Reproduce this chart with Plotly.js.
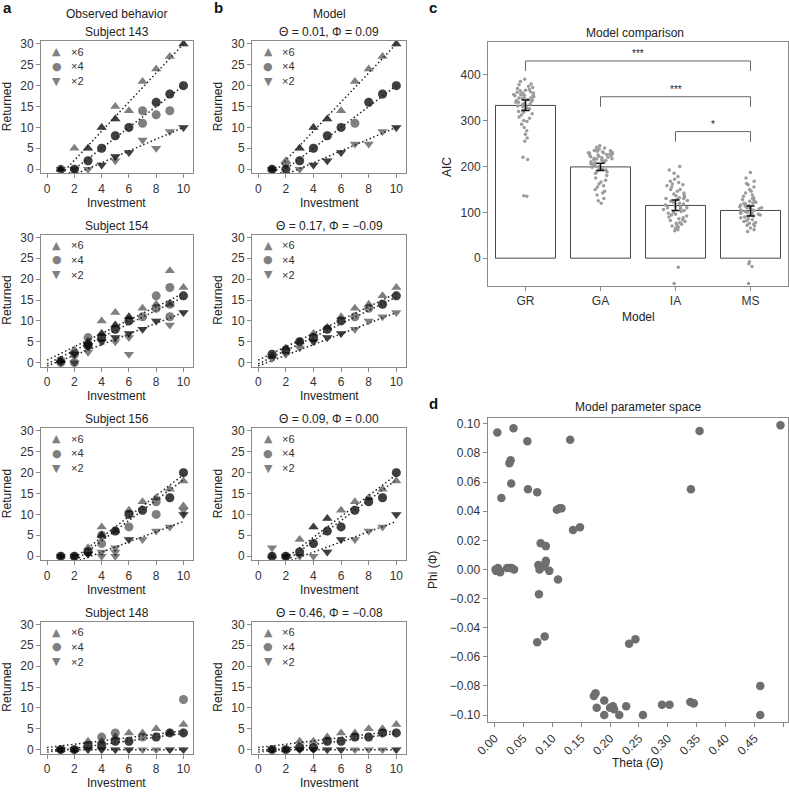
<!DOCTYPE html>
<html>
<head>
<meta charset="utf-8">
<script src="https://cdn.plot.ly/plotly-3.0.1.min.js"></script>
<style>
  html, body { margin: 0; padding: 0; background: #fff; }
  #chart { width: 789px; height: 793px; }
</style>
</head>
<body>
<div id="chart"></div>
<script>
// ---------------- DATA ----------------
const investTicks = [0, 2, 4, 6, 8, 10];
const returnTicks = [0, 5, 10, 15, 20, 25, 30];
const multiplierLabels = ['×6', '×4', '×2'];
const subjects = ['Subject 143', 'Subject 154', 'Subject 156', 'Subject 148'];
const modelParams = ['Θ = 0.01, Φ = 0.09', 'Θ = 0.17, Φ = −0.09', 'Θ = 0.09, Φ = 0.00', 'Θ = 0.46, Φ = −0.08'];

// Observed behaviour, [investment, returned] (repeated entries = repeated trials)
const obs143_x6 = [[1,0],[1,0],[2,5],[3,5],[3,5],[4,10],[4,10],[5,15],[5,12],[5,12],[6,14],[7,21],[8,24],[9,27],[10,30],[10,30]];
const obs143_x4 = [[1,0],[2,0],[2,0],[3,2],[3,2],[4,5],[4,5],[5,8],[5,8],[6,10],[6,10],[7,14],[7,11],[8,16],[8,16],[8,13],[9,18],[9,18],[9,14],[10,20],[10,20]];
const obs143_x2 = [[1,0],[2,0],[3,0],[4,1],[4,1],[5,3],[5,3],[5,2],[6,4],[6,4],[7,7],[8,5],[9,9],[10,10],[10,10]];

const obs154_x6 = [[1,0.5],[1,0.5],[2,3],[3,5],[3,5],[4,10],[4,7],[4,7],[5,12],[5,9],[5,9],[6,11],[6,11],[7,13],[8,14],[9,22],[9,14],[10,18]];
const obs154_x4 = [[1,0.5],[1,0],[2,0],[2,2],[3,6],[3,4],[3,4],[4,6],[4,6],[5,8],[5,8],[6,10],[6,10],[7,11],[8,16],[8,13],[9,18],[9,14],[9,11],[10,16],[10,16]];
const obs154_x2 = [[1,0],[2,0],[2,2],[2,2],[3,2.5],[3,4],[3,4],[4,5],[4,5],[5,5],[5,6],[5,6],[6,7],[6,7],[6,6],[6,2],[7,8],[7,8],[8,10],[8,10],[9,9],[10,12],[10,12]];

const obs156_x6 = [[1,0],[2,0],[3,2],[4,7],[4,5],[4,5],[5,6],[6,11],[7,13],[8,14],[9,16],[10,18],[10,12]];
const obs156_x4 = [[1,0],[1,0],[2,0],[2,0],[3,1],[3,1],[4,5],[4,3],[5,6],[5,6],[6,10],[6,10],[6,7],[7,11],[7,11],[8,13],[8,10],[9,14],[9,14],[10,20],[10,20]];
const obs156_x2 = [[1,0],[2,0],[3,0.5],[3,0.5],[4,0],[4,1],[5,2],[5,0],[5,1],[6,4],[6,4],[7,4],[8,6],[9,7],[10,10],[10,10],[10,11]];

const obs148_x6 = [[1,0],[2,0],[3,2],[4,2],[5,3],[6,4],[7,4],[8,5],[9,4],[10,6]];
const obs148_x4 = [[1,0],[1,0],[2,0],[2,0],[3,1],[3,1],[4,3],[4,1],[4,1],[5,4],[5,2],[5,2],[6,2],[6,2],[7,3],[8,3],[8,3],[9,4],[9,4],[10,12],[10,4],[10,4]];
const obs148_x2 = [[1,0],[1,0],[2,0],[2,0],[3,0],[3,0],[4,0],[4,0],[5,0],[5,0],[6,0],[6,0],[7,0],[8,0],[9,0],[9,0],[10,0],[10,0]];

// Model simulations
const mod143_x6 = [[1,0],[2,2],[3,5],[3,5],[4,10],[4,10],[5,12],[5,12],[6,14],[7,21],[8,24],[9,27],[10,30],[10,30]];
const mod143_x4 = [[1,0],[1,0],[2,0],[2,0],[3,2],[3,2],[4,5],[4,5],[5,8],[5,8],[6,10],[6,10],[7,11],[8,16],[8,16],[9,18],[9,18],[10,20],[10,20]];
const mod143_x2 = [[1,0],[2,1],[3,0],[4,1],[4,1],[5,2],[5,2],[6,4],[6,4],[7,6],[8,6],[9,9],[10,10],[10,10]];

const mod154_x6 = [[1,1.5],[2,3.5],[3,5],[4,7],[5,8.5],[6,11],[7,13],[8,14],[9,16],[10,18]];
const mod154_x4 = [[1,2],[1,2],[2,3],[2,3],[3,5],[3,5],[4,6],[4,6],[5,8],[5,8],[6,10],[6,10],[7,11],[8,13],[9,14],[9,14],[10,16],[10,16]];
const mod154_x2 = [[1,1],[2,2],[3,3.5],[4,5],[4,5],[5,6],[5,6],[6,7],[6,7],[7,8],[8,10],[9,11],[10,12]];

const mod156_x6 = [[1,0],[2,0],[3,4],[4,7],[4,7],[5,9],[5,9],[6,11],[7,13],[8,14],[9,16],[10,18]];
const mod156_x4 = [[1,0],[1,0],[2,0],[2,0],[3,1],[3,1],[4,3],[4,3],[5,6],[5,6],[6,7],[6,7],[7,11],[7,11],[8,13],[8,13],[9,14],[9,14],[10,20],[10,20]];
const mod156_x2 = [[1,2],[2,0],[3,0],[4,0],[5,1],[5,1],[6,4],[6,4],[7,4],[8,6],[9,7],[10,10],[10,10]];

const mod148_x6 = [[1,0],[2,0],[3,2],[4,2],[5,3],[6,4],[7,4],[8,5],[9,5],[10,6]];
const mod148_x4 = [[1,0],[1,0],[2,0],[2,0],[3,0.5],[3,0.5],[4,0.5],[4,0.5],[5,2],[5,2],[6,2],[6,2],[7,3],[7,3],[8,3],[8,3],[9,4],[9,4],[10,4],[10,4]];
const mod148_x2 = [[1,0],[2,0],[3,0],[3,0],[4,0],[4,0],[5,0],[5,0],[6,0],[6,0],[7,0],[8,0],[9,0],[10,0],[10,0]];

// Fitted (model) lines, endpoints [investment, returned]
const fit143 = [[[1.1,-1],[10,30]], [[1.6,-1],[10,20]], [[2.2,-1],[10,10]]];
const fit154 = [[[0,0.6],[10,16.6]], [[0,-0.3],[10,15.7]], [[0,-0.8],[10,12]]];
const fit156 = [[[1.8,-1],[10,19.5]], [[2.1,-1],[10,18.3]], [[2.4,-1],[10,8.3]]];
const fit148 = [[[0,0.5],[10,4.5]], [[0,-0.6],[10,3.9]], [[0,0],[10,0]]];

// Model comparison (AIC)
const models = ['GR', 'GA', 'IA', 'MS'];
const aicMean = [333, 199, 115, 104];
const aicErrPlus = [12, 8, 12, 10];
const aicErrMinus = [11, 8, 11, 12];
const aicGR = [390,385,380,378,375,372,370,368,366,365,363,362,360,360,358,357,356,355,355,354,352,350,350,349,348,346,345,344,342,340,340,338,336,335,333,332,330,328,326,324,322,320,318,315,312,308,305,300,298,292,285,278,270,262,255,220,215,136,135];
const aicGA = [245,242,240,238,236,235,234,233,232,231,230,230,229,228,227,226,225,224,223,222,221,220,219,218,217,216,215,214,213,212,210,209,208,206,205,204,202,200,198,196,194,192,190,188,185,180,175,170,166,162,158,155,150,146,142,138,130,125,120];
const aicIA = [200,192,185,178,172,168,165,162,160,158,155,150,150,146,142,140,138,136,134,132,130,130,128,126,124,122,120,118,116,114,112,110,110,108,106,104,102,100,98,96,94,92,90,88,86,84,82,80,78,76,74,72,70,68,65,62,60,-20,-55];
const aicMS = [187,175,168,163,160,155,150,146,142,138,135,132,130,128,126,124,122,120,120,118,116,115,114,112,110,110,109,108,106,105,104,102,100,100,99,98,96,95,94,92,92,90,88,86,84,82,80,78,76,74,72,70,66,62,58,-8,-12,-18,-55];
const sigPairs = [['GR','MS'], ['GA','MS'], ['IA','MS']];
const sigLevels = [430, 352, 276];
const sigLabels = ['***', '***', '*'];

// Model parameter space
const theta = [0.005,0.033,0.057,0.131,0.355,0.495,0.026,0.028,0.029,0.012,0.058,0.074,0.340,0.108,0.113,0.116,0.136,0.148,0.080,0.089,0.002,0.006,0.009,0.003,0.010,0.022,0.027,0.030,0.034,0.076,0.078,0.085,0.088,0.089,0.095,0.110,0.077,0.074,0.087,0.233,0.244,0.460,0.460,0.172,0.175,0.177,0.190,0.190,0.200,0.205,0.207,0.216,0.228,0.257,0.290,0.303,0.339,0.344,0.345];
const phi   = [0.094,0.097,0.088,0.089,0.095,0.099,0.073,0.075,0.059,0.049,0.055,0.053,0.055,0.041,0.042,0.042,0.027,0.029,0.018,0.016,0.000,0.001,-0.001,-0.001,-0.002,0.001,0.001,0.001,0.000,0.003,0.000,0.002,0.004,0.006,-0.001,-0.007,-0.017,-0.050,-0.046,-0.051,-0.048,-0.080,-0.100,-0.087,-0.085,-0.095,-0.090,-0.100,-0.095,-0.094,-0.096,-0.100,-0.094,-0.100,-0.093,-0.093,-0.091,-0.092,-0.092];

// ---------------- LAYOUT HELPERS ----------------
const W = 789, H = 793;
const FONT = 'Liberation Sans, Arial, Helvetica, sans-serif';
const px2x = p => p / W;
const px2y = p => 1 - p / H;
const colA = [41, 193], colB = [252, 406];
const ROWSTEP = 193.5;
const rowTop = k => 41 + ROWSTEP * k;
const rowBot = k => 173.3 + ROWSTEP * k;
const symbols = ['triangle-up', 'circle', 'triangle-down'];
const glyphs = ['▲', '●', '▼'];

const traces = [];
const layout = {
  width: W, height: H,
  margin: {l: 0, r: 0, t: 0, b: 0},
  paper_bgcolor: '#ffffff', plot_bgcolor: '#ffffff',
  showlegend: false,
  font: {family: FONT, size: 12, color: '#333'},
  annotations: [], shapes: []
};
const axKey = (p, n) => n === 1 ? p + 'axis' : p + 'axis' + n;
const ref = (p, n) => n === 1 ? p : p + n;
const baseAxis = {
  showgrid: false, zeroline: false, showline: true, mirror: true,
  linecolor: '#8a8a8a', linewidth: 1, ticks: 'outside', ticklen: 4, tickwidth: 1,
  tickcolor: '#8a8a8a', tickfont: {family: FONT, size: 12, color: '#333'}, fixedrange: true
};
function addText(text, xpx, ypx, opts) {
  layout.annotations.push(Object.assign({
    text: text, x: px2x(xpx), y: px2y(ypx), xref: 'paper', yref: 'paper',
    showarrow: false, xanchor: 'center', yanchor: 'middle',
    font: {family: FONT, size: 12, color: '#222'}
  }, opts || {}));
}

// ---------------- PANELS a & b ----------------
const scatterPanels = [
  {col: colA, row: 0, pts: [obs143_x6, obs143_x4, obs143_x2], fit: fit143, sub: subjects[0]},
  {col: colA, row: 1, pts: [obs154_x6, obs154_x4, obs154_x2], fit: fit154, sub: subjects[1]},
  {col: colA, row: 2, pts: [obs156_x6, obs156_x4, obs156_x2], fit: fit156, sub: subjects[2]},
  {col: colA, row: 3, pts: [obs148_x6, obs148_x4, obs148_x2], fit: fit148, sub: subjects[3]},
  {col: colB, row: 0, pts: [mod143_x6, mod143_x4, mod143_x2], fit: fit143, sub: modelParams[0]},
  {col: colB, row: 1, pts: [mod154_x6, mod154_x4, mod154_x2], fit: fit154, sub: modelParams[1]},
  {col: colB, row: 2, pts: [mod156_x6, mod156_x4, mod156_x2], fit: fit156, sub: modelParams[2]},
  {col: colB, row: 3, pts: [mod148_x6, mod148_x4, mod148_x2], fit: fit148, sub: modelParams[3]}
];

scatterPanels.forEach((p, i) => {
  const n = i + 1;
  const top = rowTop(p.row), bot = rowBot(p.row);
  layout[axKey('x', n)] = Object.assign({}, baseAxis, {
    domain: [p.col[0] / W, p.col[1] / W], anchor: ref('y', n),
    range: [-0.45, 10.7], tickvals: investTicks
  });
  layout[axKey('y', n)] = Object.assign({}, baseAxis, {
    domain: [1 - bot / H, 1 - top / H], anchor: ref('x', n),
    range: [-1, 30.7], tickvals: returnTicks
  });
  p.pts.forEach((arr, m) => {
    traces.push({
      type: 'scatter', mode: 'markers',
      x: arr.map(d => d[0]), y: arr.map(d => d[1]),
      xaxis: ref('x', n), yaxis: ref('y', n),
      marker: {symbol: symbols[m], size: 9, color: 'rgba(0,0,0,0.5)', line: {width: 0}},
      hoverinfo: 'skip'
    });
  });
  p.fit.forEach(f => {
    traces.push({
      type: 'scatter', mode: 'lines',
      x: f.map(d => d[0]), y: f.map(d => d[1]),
      xaxis: ref('x', n), yaxis: ref('y', n),
      line: {color: '#222', width: 1.5, dash: '1.5px,2.5px'},
      hoverinfo: 'skip'
    });
  });
  // in-plot legend
  const lx = p.col[0];
  multiplierLabels.forEach((lab, m) => {
    const ly = top + 10.6 + m * 14.7;
    addText(glyphs[m], lx + 16, ly, {font: {family: 'DejaVu Sans, ' + FONT, size: 11, color: '#808080'}});
    addText(lab, lx + 27.5, ly, {xanchor: 'left', font: {family: FONT, size: 11, color: '#333'}});
  });
  const cx = (p.col[0] + p.col[1]) / 2;
  addText(p.sub, cx, 32 + ROWSTEP * p.row);
  addText('Investment', cx, 202.5 + ROWSTEP * p.row);
  addText('Returned', p.col[0] - 34, (top + bot) / 2, {textangle: -90});
});

addText('Observed behavior', (colA[0] + colA[1]) / 2, 14);
addText('Model', (colB[0] + colB[1]) / 2, 14);
addText('<b>a</b>', 1, 8, {xanchor: 'left', font: {family: FONT, size: 15, color: '#111'}});
addText('<b>b</b>', 212, 8, {xanchor: 'left', font: {family: FONT, size: 15, color: '#111'}});
addText('<b>c</b>', 427, 8, {xanchor: 'left', font: {family: FONT, size: 15, color: '#111'}});
addText('<b>d</b>', 427, 403, {xanchor: 'left', font: {family: FONT, size: 15, color: '#111'}});

// ---------------- PANEL c ----------------
const cBox = {l: 488, r: 788, t: 41.7, b: 285.7};
layout.xaxis9 = Object.assign({}, baseAxis, {
  domain: [cBox.l / W, cBox.r / W], anchor: 'y9', type: 'category',
  range: [-0.5, 3.5], categoryorder: 'array', categoryarray: models
});
layout.yaxis9 = Object.assign({}, baseAxis, {
  domain: [1 - cBox.b / H, 1 - cBox.t / H], anchor: 'x9',
  range: [-60, 472], tickvals: [0, 100, 200, 300, 400]
});
traces.push({
  type: 'bar', x: models, y: aicMean, xaxis: 'x9', yaxis: 'y9', width: 0.8,
  marker: {color: '#ffffff', line: {color: '#333', width: 0.9}}, hoverinfo: 'skip'
});
const aicAll = [aicGR, aicGA, aicIA, aicMS];
traces.push({
  type: 'box', xaxis: 'x9', yaxis: 'y9',
  x: aicAll.flatMap((arr, i) => arr.map(() => models[i])),
  y: aicAll.flat(),
  boxpoints: 'all', jitter: 0.42, pointpos: 0, width: 0.8,
  fillcolor: 'rgba(0,0,0,0)', line: {width: 0, color: 'rgba(0,0,0,0)'}, whiskerwidth: 0,
  marker: {color: '#9c9c9c', size: 3.5}, hoverinfo: 'skip'
});
traces.push({
  type: 'scatter', mode: 'markers', x: models, y: aicMean, xaxis: 'x9', yaxis: 'y9',
  marker: {size: 1, color: 'rgba(0,0,0,0)'},
  error_y: {type: 'data', array: aicErrPlus, arrayminus: aicErrMinus, color: '#111', thickness: 1.5, width: 4},
  hoverinfo: 'skip'
});
sigPairs.forEach((pr, k) => {
  const yTop = sigLevels[k];
  traces.push({
    type: 'scatter', mode: 'lines', xaxis: 'x9', yaxis: 'y9',
    x: [pr[0], pr[0], pr[1], pr[1]], y: [yTop - 22, yTop, yTop, yTop - 22],
    line: {color: '#666', width: 1}, hoverinfo: 'skip'
  });
  layout.annotations.push({
    text: sigLabels[k], xref: 'x9', yref: 'y9',
    x: (models.indexOf(pr[0]) + models.indexOf(pr[1])) / 2, y: yTop + 16,
    showarrow: false, font: {family: FONT, size: 10, color: '#222'}
  });
});
addText('Model comparison', (cBox.l + cBox.r) / 2 - 3, 33);
addText('AIC', 447, 167, {textangle: -90});
addText('Model', (cBox.l + cBox.r) / 2, 317);

// ---------------- PANEL d ----------------
const dBox = {l: 487.5, r: 788, t: 418, b: 721.7};
layout.xaxis10 = Object.assign({}, baseAxis, {
  domain: [dBox.l / W, dBox.r / W], anchor: 'y10',
  range: [-0.012, 0.508], tick0: 0, dtick: 0.05, tickformat: '.2f', tickangle: -45
});
layout.yaxis10 = Object.assign({}, baseAxis, {
  domain: [1 - dBox.b / H, 1 - dBox.t / H], anchor: 'x10',
  range: [-0.1046, 0.104], tick0: 0, dtick: 0.02, tickformat: '.2f'
});
traces.push({
  type: 'scatter', mode: 'markers', x: theta, y: phi, xaxis: 'x10', yaxis: 'y10',
  marker: {color: '#6e6e6e', size: 8.5, line: {width: 0}}, hoverinfo: 'skip'
});
addText('Model parameter space', (dBox.l + dBox.r) / 2, 407);
addText('Phi (Φ)', 433, 570, {textangle: -90});
addText('Theta (Θ)', 637, 763);

Plotly.newPlot('chart', traces, layout, {staticPlot: true, displayModeBar: false});
</script>
</body>
</html>
